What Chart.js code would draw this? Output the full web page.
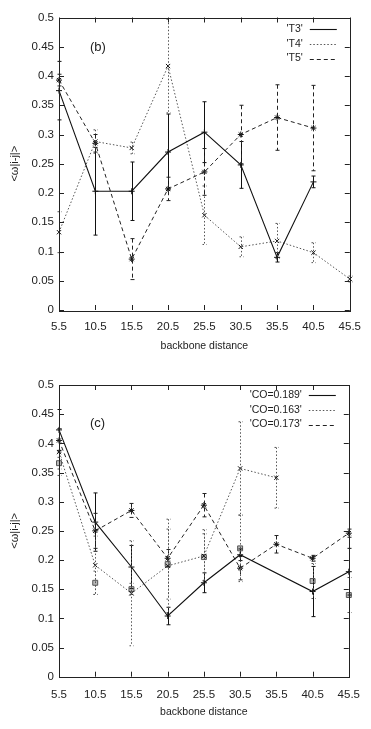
<!DOCTYPE html>
<html>
<head>
<meta charset="utf-8">
<title>backbone distance</title>
<script src="https://cdn.jsdelivr.net/npm/chart.js@4.4.1/dist/chart.umd.min.js"></script>
<style>
    body { margin: 0; background: #fff; }
    #wrap { position: relative; width: 371px; height: 729px; }
    canvas { position: absolute; left: 0; }
</style>
</head>
<body>
<div id="wrap">
    <canvas id="chartB" width="371" height="362" style="top:0;width:371px;height:362px"></canvas>
    <canvas id="chartC" width="371" height="364" style="top:365px;width:371px;height:364px"></canvas>
</div>
<script>
// x categories and y tick labels
var distances = ['5.5', '10.5', '15.5', '20.5', '25.5', '30.5', '35.5', '40.5', '45.5'];
var yTickLabels = ['0', '0.05', '0.1', '0.15', '0.2', '0.25', '0.3', '0.35', '0.4', '0.45', '0.5'];

// panel (b)
var t3 = [0.375, 0.203, 0.203, 0.270, 0.304, 0.248, 0.090, 0.219, null];
var t3Err = [0.050, 0.075, 0.050, 0.065, 0.052, 0.040, 0.008, 0.010, null];
var t4 = [0.133, 0.288, 0.277, 0.417, 0.162, 0.108, 0.118, 0.098, 0.053];
var t4Err = [0.035, 0.020, 0.010, 0.080, 0.050, 0.017, 0.030, 0.017, 0.005];
var t5 = [0.393, 0.285, 0.087, 0.207, 0.236, 0.300, 0.329, 0.311, null];
var t5Err = [0.010, 0.015, 0.035, 0.020, 0.040, 0.050, 0.056, 0.073, null];

// panel (c)
var co189 = [0.423, 0.265, 0.188, 0.104, 0.161, 0.209, null, 0.146, 0.180];
var co189Err = [0.035, 0.050, 0.037, 0.015, 0.017, 0.010, null, 0.043, 0.040];
var co163 = [0.385, 0.191, 0.143, 0.190, 0.207, 0.357, 0.341, null, null];
var co163Err = [0.040, 0.050, 0.090, 0.080, 0.045, 0.080, 0.052, null, null];
var co173 = [0.405, 0.250, 0.285, 0.203, 0.294, 0.186, 0.227, 0.203, 0.246];
var co173Err = [0.020, 0.030, 0.012, 0.015, 0.020, 0.020, 0.015, 0.005, 0.007];
var extra = [0.366, 0.161, 0.150, 0.193, 0.205, 0.220, null, 0.164, 0.140];
var extraErr = [0.010, 0.020, 0.010, 0.060, 0.040, 0.057, null, 0.030, 0.030];

var FONT = "'Liberation Sans', Arial, sans-serif";
Chart.defaults.font.family = FONT;
Chart.defaults.color = '#222';

var SOLID = { borderColor: '#111', borderDash: [], borderWidth: 1.1 };
var DOTTED = { borderColor: '#555', borderDash: [1.5, 2], borderWidth: 1 };
var DASHED = { borderColor: '#222', borderDash: [4, 3], borderWidth: 1 };

function series(label, data, errors, style, marker) {
    return {
        label: label,
        data: data,
        errors: errors,
        borderColor: style.borderColor,
        borderDash: style.borderDash,
        borderWidth: style.borderWidth,
        pointStyle: marker,
        pointRadius: 3,
        pointBorderColor: '#111',
        pointBackgroundColor: '#111',
        pointBorderWidth: 1,
        spanGaps: true,
        tension: 0,
        fill: false
    };
}

var errorBars = {
    id: 'errorBars',
    afterDatasetsDraw: function(chart) {
        var ctx = chart.ctx, ys = chart.scales.y;
        chart.data.datasets.forEach(function(ds, i) {
            if (!ds.errors) return;
            var meta = chart.getDatasetMeta(i);
            ctx.save();
            ctx.strokeStyle = ds.borderColor;
            ctx.lineWidth = 1;
            ctx.setLineDash(ds.borderDash || []);
            meta.data.forEach(function(pt, j) {
                var v = ds.data[j], e = ds.errors[j];
                if (v == null || e == null) return;
                var x = Math.round(pt.x) + 0.5;
                var y1 = ys.getPixelForValue(v + e), y2 = ys.getPixelForValue(v - e);
                ctx.beginPath();
                ctx.moveTo(x, y1); ctx.lineTo(x, y2);
                ctx.moveTo(x - 2, y1); ctx.lineTo(x + 2, y1);
                ctx.moveTo(x - 2, y2); ctx.lineTo(x + 2, y2);
                ctx.stroke();
            });
            ctx.restore();
        });
    }
};

var frame = {
    id: 'frame',
    afterDraw: function(chart, args, opts) {
        var a = chart.chartArea, ctx = chart.ctx;
        var xs = chart.scales.x, ys = chart.scales.y;
        ctx.save();
        ctx.strokeStyle = '#222';
        ctx.lineWidth = 1;
        ctx.setLineDash([]);
        ctx.strokeRect(Math.round(a.left) + 0.5, Math.round(a.top) + 0.5,
            Math.round(a.right - a.left), Math.round(a.bottom - a.top));
        ctx.beginPath();
        xs.ticks.forEach(function(t, i) {
            var px = Math.round(xs.getPixelForTick(i)) + 0.5;
            ctx.moveTo(px, a.bottom); ctx.lineTo(px, a.bottom - 5);
            ctx.moveTo(px, a.top); ctx.lineTo(px, a.top + 5);
        });
        ys.ticks.forEach(function(t, i) {
            var py = Math.round(ys.getPixelForTick(i)) + 0.5;
            ctx.moveTo(a.left, py); ctx.lineTo(a.left + 5, py);
            ctx.moveTo(a.right, py); ctx.lineTo(a.right - 5, py);
        });
        ctx.stroke();

        ctx.font = '13px ' + FONT;
        ctx.fillStyle = '#222';
        ctx.textAlign = 'left';
        ctx.textBaseline = 'middle';
        ctx.fillText(opts.panel, a.left + 31, a.top + opts.panelDy);

        // key
        ctx.font = '10.5px ' + FONT;
        ctx.textAlign = 'right';
        var row = 0;
        chart.data.datasets.forEach(function(ds) {
            if (ds.inKey === false) return;
            var y = a.top + opts.keyTop + row * opts.keyStep;
            ctx.fillText(ds.label, a.right - 47, y);
            ctx.strokeStyle = ds.borderColor;
            ctx.lineWidth = ds.borderWidth;
            ctx.setLineDash(ds.borderDash);
            ctx.beginPath();
            ctx.moveTo(a.right - 40, Math.round(y) + 0.5);
            ctx.lineTo(a.right - 13, Math.round(y) + 0.5);
            ctx.stroke();
            row++;
        });
        ctx.restore();
    }
};

function makeChart(id, datasets, o) {
    return new Chart(document.getElementById(id).getContext('2d'), {
        type: 'line',
        data: { labels: distances, datasets: datasets },
        plugins: [errorBars, frame],
        options: {
            responsive: false,
            animation: false,
            layout: { padding: { top: o.top, right: 11, bottom: o.bottom, left: 0 } },
            plugins: {
                legend: { display: false },
                tooltip: { enabled: false },
                frame: { panel: o.panel, panelDy: o.panelDy, keyTop: o.keyTop, keyStep: 14.8 }
            },
            scales: {
                x: {
                    type: 'category',
                    offset: false,
                    grid: { display: false, drawTicks: false },
                    border: { display: false },
                    ticks: { padding: o.xPad, maxRotation: 0, autoSkip: false, font: { size: 11.5 }, color: '#222' },
                    title: { display: true, text: 'backbone distance', font: { size: 10.5 }, color: '#222', padding: { top: 0, bottom: 3 } },
                    afterFit: function(s) { s.height = 45; }
                },
                y: {
                    min: 0,
                    max: 0.5,
                    grid: { display: false, drawTicks: false },
                    border: { display: false },
                    ticks: {
                        stepSize: 0.05,
                        padding: 5,
                        font: { size: 11.5 },
                        color: '#222',
                        callback: function(v, i) { return yTickLabels[i]; }
                    },
                    title: { display: true, text: '<ω|i-j|>', font: { size: 11 }, color: '#222', padding: { top: 8, bottom: 0 } },
                    afterFit: function(s) { s.width = 59; }
                }
            }
        }
    });
}

makeChart('chartB', [
    series("'T3'", t3, t3Err, SOLID, 'cross'),
    series("'T4'", t4, t4Err, DOTTED, 'crossRot'),
    series("'T5'", t5, t5Err, DASHED, 'star')
], { top: 17.5, bottom: 7, xPad: 10, panel: '(b)', panelDy: 30, keyTop: 11.5 });

var extraSet = series('', extra, extraErr, DOTTED, 'rect');
extraSet.showLine = false;
extraSet.inKey = false;
extraSet.pointBackgroundColor = '#bbb';
extraSet.pointBorderColor = '#555';
extraSet.pointRadius = 3.5;

makeChart('chartC', [
    series("'CO=0.189'", co189, co189Err, SOLID, 'cross'),
    series("'CO=0.163'", co163, co163Err, DOTTED, 'crossRot'),
    series("'CO=0.173'", co173, co173Err, DASHED, 'star'),
    extraSet
], { top: 20, bottom: 7.3, xPad: 11, panel: '(c)', panelDy: 38, keyTop: 10 });
</script>
</body>
</html>
